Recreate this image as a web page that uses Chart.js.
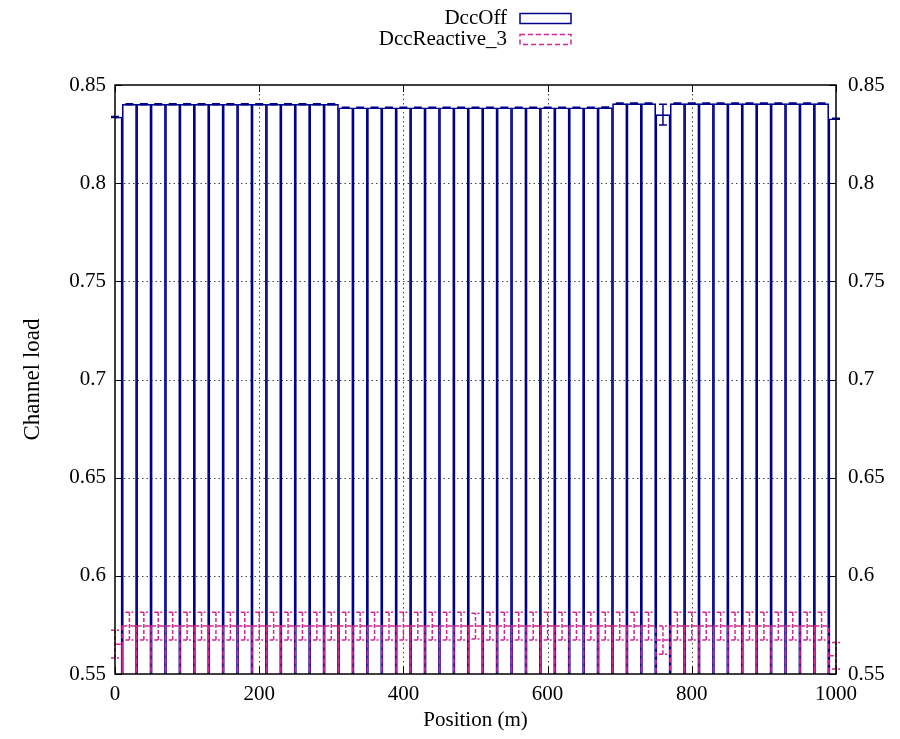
<!DOCTYPE html>
<html>
<head>
<meta charset="utf-8">
<title>Channel load</title>
<script src="https://cdn.jsdelivr.net/npm/chart.js@4.4.1/dist/chart.umd.min.js"></script>
<style>
  body { margin: 0; background: #fff; }
  #wrap { width: 900px; height: 739px; position: relative; }
</style>
</head>
<body>
<div id="wrap"><canvas id="chartBox1"></canvas></div>
<script>
const positions = [0, 20, 40, 60, 80, 100, 120, 140, 160, 180, 200, 220, 240, 260, 280, 300,
  320, 340, 360, 380, 400, 420, 440, 460, 480, 500, 520, 540, 560, 580, 600, 620, 640, 660, 680,
  700, 720, 740, 760, 780, 800, 820, 840, 860, 880, 900, 920, 940, 960, 980, 1000];

const dccOff = [0.8337, 0.8402, 0.8402, 0.8402, 0.8402, 0.8402, 0.8402, 0.8402, 0.8402, 0.8402,
  0.8402, 0.8402, 0.8402, 0.8402, 0.8402, 0.8402,
  0.8384, 0.8384, 0.8384, 0.8384, 0.8384, 0.8384, 0.8384, 0.8384, 0.8384, 0.8384, 0.8384, 0.8384,
  0.8384, 0.8384, 0.8384, 0.8384, 0.8384, 0.8384, 0.8385,
  0.8405, 0.8405, 0.8405, 0.8349, 0.8405, 0.8405, 0.8405, 0.8405, 0.8405, 0.8405, 0.8405, 0.8405,
  0.8405, 0.8405, 0.8405, 0.8328];
const dccOffErr = [0.0003, 0.0003, 0.0003, 0.0003, 0.0003, 0.0003, 0.0003, 0.0003, 0.0003, 0.0003,
  0.0003, 0.0003, 0.0003, 0.0003, 0.0003, 0.0003,
  0.0003, 0.0003, 0.0003, 0.0003, 0.0003, 0.0003, 0.0003, 0.0003, 0.0003, 0.0003, 0.0003, 0.0003,
  0.0003, 0.0003, 0.0003, 0.0003, 0.0003, 0.0003, 0.0003,
  0.0003, 0.0003, 0.0003, 0.0053, 0.0003, 0.0003, 0.0003, 0.0003, 0.0003, 0.0003, 0.0003, 0.0003,
  0.0003, 0.0003, 0.0003, 0.0003];

const dccReactive = [0.5652, 0.5744, 0.5744, 0.5744, 0.5744, 0.5744, 0.5744, 0.5744, 0.5744, 0.5744,
  0.5744, 0.5744, 0.5744, 0.5744, 0.5744, 0.5744,
  0.5744, 0.5744, 0.5744, 0.5744, 0.5744, 0.5744, 0.5744, 0.5744, 0.5744, 0.5744, 0.5744, 0.5744,
  0.5744, 0.5744, 0.5744, 0.5744, 0.5744, 0.5744, 0.5744,
  0.5744, 0.5744, 0.5744, 0.5673, 0.5744, 0.5744, 0.5744, 0.5744, 0.5744, 0.5744, 0.5744, 0.5744,
  0.5744, 0.5744, 0.5744, 0.5593];
const dccReactiveErr = [0.0071, 0.0071, 0.0071, 0.0071, 0.0071, 0.0071, 0.0071, 0.0071, 0.0071, 0.0071,
  0.0071, 0.0071, 0.0071, 0.0071, 0.0071, 0.0071,
  0.0071, 0.0071, 0.0071, 0.0071, 0.0071, 0.0071, 0.0071, 0.0071, 0.0071, 0.0066, 0.0071, 0.0071,
  0.0071, 0.0071, 0.0071, 0.0071, 0.0071, 0.0071, 0.0071,
  0.0071, 0.0071, 0.0071, 0.0072, 0.0071, 0.0071, 0.0071, 0.0071, 0.0071, 0.0071, 0.0071, 0.0071,
  0.0071, 0.0071, 0.0071, 0.0068];

const xTicks = [0, 200, 400, 600, 800, 1000];
const yTicks = [0.55, 0.6, 0.65, 0.7, 0.75, 0.8, 0.85];

const seriesNames = ['DccOff', 'DccReactive_3'];
const blue = '#00008b';
const pink = '#d6258e';
const serif = '"Liberation Serif", "DejaVu Serif", serif';

function toPoints(values) {
  return positions.map((p, i) => ({ x: p, y: values[i] }));
}

// gnuplot style frame, dotted grid, inward ticks, dashed boxes, error bars, legend
const gnuplotLook = {
  id: 'gnuplotLook',
  beforeDatasetsDraw(chart) {
    const { ctx, chartArea: a, scales } = chart;
    ctx.save();
    ctx.strokeStyle = '#444';
    ctx.lineWidth = 1;
    ctx.setLineDash([1.5, 3]);
    xTicks.slice(1, -1).forEach((t) => {
      const px = Math.round(scales.x.getPixelForValue(t)) + 0.5;
      ctx.beginPath();
      ctx.moveTo(px, a.top);
      ctx.lineTo(px, a.bottom);
      ctx.stroke();
    });
    yTicks.slice(1, -1).forEach((t) => {
      const py = Math.round(scales.y.getPixelForValue(t)) + 0.5;
      ctx.beginPath();
      ctx.moveTo(a.left, py);
      ctx.lineTo(a.right, py);
      ctx.stroke();
    });
    ctx.restore();
  },
  afterDatasetsDraw(chart) {
    const { ctx, chartArea: a, scales } = chart;

    // dashed outline of the second series boxes
    const meta = chart.getDatasetMeta(1);
    ctx.save();
    ctx.beginPath();
    ctx.rect(a.left, a.top, a.right - a.left, a.bottom - a.top);
    ctx.clip();
    ctx.strokeStyle = pink;
    ctx.lineWidth = 1.5;
    ctx.setLineDash([5, 3]);
    meta.data.forEach((el) => {
      const p = el.getProps(['x', 'y', 'base', 'width'], true);
      ctx.strokeRect(p.x - p.width / 2, p.y, p.width, p.base - p.y);
    });
    ctx.restore();

    // error bars
    const errs = [
      { values: dccOff, err: dccOffErr, color: blue, dash: [] },
      { values: dccReactive, err: dccReactiveErr, color: pink, dash: [4, 2] }
    ];
    errs.forEach((s) => {
      ctx.save();
      ctx.strokeStyle = s.color;
      ctx.lineWidth = 1.5;
      ctx.setLineDash(s.dash);
      s.values.forEach((v, i) => {
        const px = scales.x.getPixelForValue(positions[i]);
        const lo = scales.y.getPixelForValue(v - s.err[i]);
        const hi = scales.y.getPixelForValue(v + s.err[i]);
        ctx.beginPath();
        ctx.moveTo(px, lo);
        ctx.lineTo(px, hi);
        ctx.moveTo(px - 4, lo);
        ctx.lineTo(px + 4, lo);
        ctx.moveTo(px - 4, hi);
        ctx.lineTo(px + 4, hi);
        ctx.stroke();
      });
      ctx.restore();
    });

    // frame and inward tick marks
    ctx.save();
    ctx.strokeStyle = '#000';
    ctx.lineWidth = 1.5;
    ctx.strokeRect(a.left, a.top, a.right - a.left, a.bottom - a.top);
    ctx.lineWidth = 1;
    ctx.beginPath();
    xTicks.forEach((t) => {
      const px = Math.round(scales.x.getPixelForValue(t)) + 0.5;
      ctx.moveTo(px, a.bottom);
      ctx.lineTo(px, a.bottom - 7);
      ctx.moveTo(px, a.top);
      ctx.lineTo(px, a.top + 7);
    });
    yTicks.forEach((t) => {
      const py = Math.round(scales.y.getPixelForValue(t)) + 0.5;
      ctx.moveTo(a.left, py);
      ctx.lineTo(a.left + 7, py);
      ctx.moveTo(a.right, py);
      ctx.lineTo(a.right - 7, py);
    });
    ctx.stroke();
    ctx.restore();

    // legend, text on the left and sample box on the right
    ctx.save();
    ctx.font = '21px ' + serif;
    ctx.fillStyle = '#000';
    ctx.textAlign = 'right';
    ctx.textBaseline = 'middle';
    ctx.fillText(seriesNames[0], 507, 18);
    ctx.fillText(seriesNames[1], 507, 39);
    ctx.lineWidth = 1.5;
    ctx.strokeStyle = blue;
    ctx.strokeRect(520, 13.5, 51, 10);
    ctx.strokeStyle = pink;
    ctx.setLineDash([5, 3]);
    ctx.strokeRect(520, 34.5, 51, 10);
    ctx.restore();
  }
};

const tickFont = { family: serif, size: 21 };
const plainLabel = (v) => String(v);

const ctxBox1 = document.getElementById('chartBox1').getContext('2d');

const chartBox1 = new Chart(ctxBox1, {
  type: 'bar',
  data: {
    datasets: [
      {
        label: seriesNames[0],
        data: toPoints(dccOff),
        backgroundColor: 'rgba(0,0,0,0)',
        borderColor: blue,
        borderWidth: 1,
        grouped: false,
        clip: 0,
        barPercentage: 1,
        categoryPercentage: 1
      },
      {
        label: seriesNames[1],
        data: toPoints(dccReactive),
        backgroundColor: 'rgba(0,0,0,0)',
        borderWidth: 0,
        grouped: false,
        clip: 0,
        barPercentage: 1,
        categoryPercentage: 1
      }
    ]
  },
  options: {
    responsive: true,
    maintainAspectRatio: false,
    animation: false,
    layout: { padding: { top: 85, left: 0, right: 0, bottom: 0 } },
    plugins: {
      legend: { display: false },
      tooltip: { enabled: false }
    },
    scales: {
      x: {
        type: 'linear',
        position: 'bottom',
        min: 0,
        max: 1000,
        offset: false,
        afterBuildTicks: (axis) => { axis.ticks = xTicks.map((v) => ({ value: v })); },
        afterFit: (axis) => { axis.height = 65; },
        grid: { display: false, drawTicks: false },
        border: { display: false },
        ticks: { color: '#000', font: tickFont, padding: 8, maxRotation: 0, callback: plainLabel },
        title: { display: true, text: 'Position (m)', color: '#000', font: { family: serif, size: 21 }, padding: { top: 0, bottom: 6 } }
      },
      y: {
        position: 'left',
        min: 0.55,
        max: 0.85,
        afterBuildTicks: (axis) => { axis.ticks = yTicks.map((v) => ({ value: v })); },
        afterFit: (axis) => { axis.width = 115; },
        grid: { display: false, drawTicks: false },
        border: { display: false },
        ticks: { color: '#000', font: tickFont, padding: 9, callback: plainLabel },
        title: { display: true, text: 'Channel load', color: '#000', font: { family: serif, size: 23 }, padding: { top: 19, bottom: 0 } }
      },
      y2: {
        position: 'right',
        min: 0.55,
        max: 0.85,
        afterBuildTicks: (axis) => { axis.ticks = yTicks.map((v) => ({ value: v })); },
        afterFit: (axis) => { axis.width = 64; },
        grid: { display: false, drawTicks: false },
        border: { display: false },
        ticks: { color: '#000', font: tickFont, padding: 12, callback: plainLabel }
      }
    }
  },
  plugins: [gnuplotLook]
});
</script>
</body>
</html>
